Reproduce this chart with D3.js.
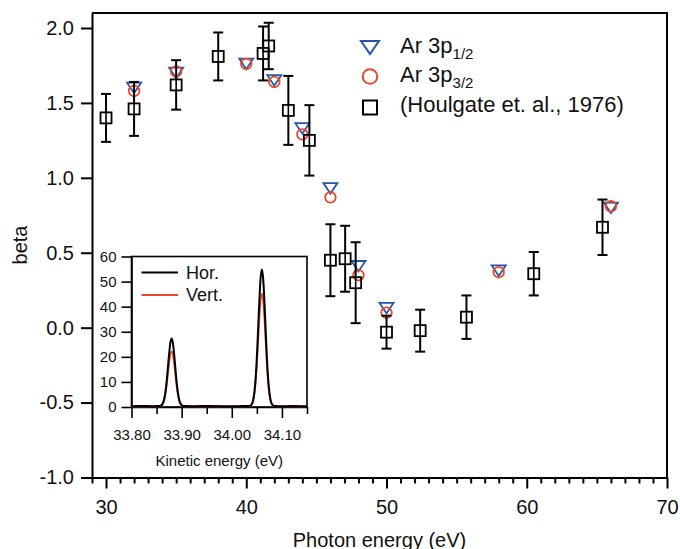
<!DOCTYPE html>
<html>
<head>
<meta charset="utf-8">
<script src="https://cdn.jsdelivr.net/npm/d3@7"></script>
<style>
  html, body { margin: 0; padding: 0; background: #fff; }
  svg { display: block; font-family: "Liberation Sans", Arial, Helvetica, sans-serif; }
</style>
</head>
<body>
<svg id="chart" width="680" height="549"></svg>
<script>
// ---------- data ----------
const photonEnergy = [32, 35, 40, 42, 44, 46, 48, 50, 58, 66];
const beta3p12 = [1.60, 1.70, 1.76, 1.65, 1.33, 0.93, 0.41, 0.13, 0.38, 0.80];
const beta3p32 = [1.58, 1.71, 1.76, 1.64, 1.29, 0.87, 0.35, 0.10, 0.37, 0.81];

const houlgateEnergy = [30, 32, 35, 38, 41.2, 41.6, 43, 44.5, 46, 47.05, 47.8, 50, 52.4, 55.7, 60.5, 65.4];
const houlgateBeta   = [1.40, 1.46, 1.62, 1.81, 1.83, 1.88, 1.45, 1.25, 0.45, 0.46, 0.30, -0.03, -0.02, 0.07, 0.36, 0.67];
const houlgateErr    = [0.16, 0.18, 0.165, 0.16, 0.18, 0.155, 0.23, 0.235, 0.24, 0.22, 0.27, 0.11, 0.14, 0.145, 0.145, 0.185];

const xTicks = [30, 40, 50, 60, 70];
const yTicks = [-1.0, -0.5, 0.0, 0.5, 1.0, 1.5, 2.0];

const legendLabels = [["Ar 3p", "1/2"], ["Ar 3p", "3/2"], ["(Houlgate et. al., 1976)", ""]];

// inset spectrum (kinetic energy, eV)
const kineticEnergy = [33.80, 33.82, 33.84, 33.85,
  33.855, 33.86, 33.8625, 33.865, 33.8675, 33.87, 33.8725, 33.875, 33.8775, 33.88,
  33.8825, 33.885, 33.8875, 33.89, 33.8925, 33.895, 33.8975, 33.90, 33.905,
  33.92, 33.95, 33.98, 34.00, 34.02,
  34.035, 34.04, 34.0425, 34.045, 34.0475, 34.05, 34.0525, 34.055, 34.0575, 34.06,
  34.0625, 34.065, 34.0675, 34.07, 34.0725, 34.075, 34.0775, 34.08, 34.085,
  34.10, 34.12, 34.15];
const intensityHor = [0.3, 0.4, 0.3, 0.35,
  0.35, 0.8, 1.5, 3.0, 5.8, 10.0, 15.5, 21.2, 25.6, 27.3,
  25.6, 21.2, 15.5, 10.0, 5.8, 3.0, 1.5, 0.8, 0.35,
  0.3, 0.35, 0.3, 0.3, 0.35,
  0.4, 1.2, 2.7, 5.8, 11.4, 19.9, 31.0, 42.5, 51.4, 54.8,
  51.4, 42.5, 31.0, 19.9, 11.4, 5.8, 2.7, 1.2, 0.4,
  0.3, 0.35, 0.3];
const intensityVert = [0.2, 0.25, 0.2, 0.25,
  0.25, 0.6, 1.2, 2.4, 4.7, 8.1, 12.6, 17.2, 20.8, 22.2,
  20.8, 17.2, 12.6, 8.1, 4.7, 2.4, 1.2, 0.6, 0.25,
  0.2, 0.25, 0.2, 0.2, 0.25,
  0.3, 1.0, 2.2, 4.7, 9.3, 16.4, 25.5, 35.1, 42.4, 45.2,
  42.4, 35.1, 25.5, 16.4, 9.3, 4.7, 2.2, 1.0, 0.3,
  0.2, 0.25, 0.2];
const insetXTicks = [33.80, 33.90, 34.00, 34.10];
const insetXMinor = [33.85, 33.95, 34.05, 34.15];
const insetYTicks = [0, 10, 20, 30, 40, 50, 60];
const insetLegend = ["Hor.", "Vert."];

// ---------- styles ----------
const BLUE = "#2356a8";
const RED = "#e8472b";
const FONT = 20;

const svg = d3.select("#chart");

// ---------- main plot ----------
const L = 92, R = 667, T = 13, B = 477.5;
const x = d3.scaleLinear().domain([29, 70]).range([L, R]);
const y = d3.scaleLinear().domain([-1.0, 2.1]).range([B, T]);

// frame
svg.append("path")
  .attr("d", `M${L},${T}H${R}V${B}`)
  .attr("fill", "none").attr("stroke", "#000").attr("stroke-width", 2);

// x axis minor ticks
const minor = d3.range(29, 71).filter(v => v % 10 !== 0);
svg.append("g").attr("transform", `translate(0,${B})`)
  .call(d3.axisBottom(x).tickValues(minor).tickSize(6).tickFormat(""))
  .call(g => g.select(".domain").remove())
  .call(g => g.selectAll("line").attr("stroke-width", 2));
// x axis major
svg.append("g").attr("transform", `translate(0,${B})`)
  .call(d3.axisBottom(x).tickValues(xTicks).tickSize(11).tickSizeOuter(0).tickPadding(11).tickFormat(d => String(d)))
  .call(g => g.select(".domain").attr("stroke-width", 2))
  .call(g => g.selectAll("line").attr("stroke-width", 2))
  .call(g => g.selectAll("text").attr("font-size", FONT).attr("font-family", "Liberation Sans, Arial, sans-serif").attr("fill", "#111"));

// y axis
svg.append("g").attr("transform", `translate(${L},0)`)
  .call(d3.axisLeft(y).tickValues(yTicks).tickSize(11).tickSizeOuter(0).tickPadding(7).tickFormat(d => d.toFixed(1)))
  .call(g => g.select(".domain").attr("stroke-width", 2))
  .call(g => g.selectAll("line").attr("stroke-width", 2))
  .call(g => g.selectAll("text").attr("font-size", FONT).attr("font-family", "Liberation Sans, Arial, sans-serif").attr("fill", "#111"));

// axis titles
svg.append("text")
  .attr("transform", "translate(27,245) rotate(-90)")
  .attr("text-anchor", "middle").attr("font-size", FONT).attr("fill", "#111")
  .text("beta");
svg.append("text")
  .attr("x", (L + R) / 2).attr("y", 546.5)
  .attr("text-anchor", "middle").attr("font-size", FONT).attr("fill", "#111")
  .text("Photon energy (eV)");

// ---------- inset ----------
const iL = 131.5, iR = 307, iT = 256.5, iB = 407;
const ix = d3.scaleLinear().domain([33.80, 34.15]).range([iL, iR]);
const iy = d3.scaleLinear().domain([0, 60]).range([iB, iT]);

svg.append("rect").attr("x", iL).attr("y", iT).attr("width", iR - iL).attr("height", iB - iT)
  .attr("fill", "#fff").attr("stroke", "#000").attr("stroke-width", 1.6);

svg.append("g").attr("transform", `translate(0,${iB})`)
  .call(d3.axisBottom(ix).tickValues(insetXMinor).tickSize(7).tickFormat(""))
  .call(g => g.select(".domain").remove())
  .call(g => g.selectAll("line").attr("stroke-width", 1.6));
svg.append("g").attr("transform", `translate(0,${iB})`)
  .call(d3.axisBottom(ix).tickValues(insetXTicks).tickSize(11).tickSizeOuter(0).tickPadding(11).tickFormat(d => d.toFixed(2)))
  .call(g => g.select(".domain").attr("stroke-width", 1.6))
  .call(g => g.selectAll("line").attr("stroke-width", 1.6))
  .call(g => g.selectAll("text").attr("font-size", 15).attr("font-family", "Liberation Sans, Arial, sans-serif").attr("fill", "#111"));
svg.append("g").attr("transform", `translate(${iL},0)`)
  .call(d3.axisLeft(iy).tickValues(insetYTicks).tickSize(10).tickSizeOuter(0).tickPadding(5).tickFormat(d => String(d)))
  .call(g => g.select(".domain").attr("stroke-width", 1.6))
  .call(g => g.selectAll("line").attr("stroke-width", 1.6))
  .call(g => g.selectAll("text").attr("font-size", 15).attr("font-family", "Liberation Sans, Arial, sans-serif").attr("fill", "#111"));

svg.append("text")
  .attr("x", (iL + iR) / 2).attr("y", 465.5)
  .attr("text-anchor", "middle").attr("font-size", 15).attr("fill", "#111")
  .text("Kinetic energy (eV)");

const spec = kineticEnergy.map((k, i) => ({ k, h: intensityHor[i], v: intensityVert[i] }));
const lineV = d3.line().x(d => ix(d.k)).y(d => iy(d.v)).curve(d3.curveMonotoneX);
const lineH = d3.line().x(d => ix(d.k)).y(d => iy(d.h)).curve(d3.curveMonotoneX);
svg.append("path").datum(spec).attr("d", lineV).attr("fill", "none").attr("stroke", RED).attr("stroke-width", 1.6);
svg.append("path").datum(spec).attr("d", lineH).attr("fill", "none").attr("stroke", "#000").attr("stroke-width", 2);

// inset legend
const ilg = svg.append("g");
[[ "#000", 272.5, 278.5, 2.2 ], [ RED, 295, 301, 1.8 ]].forEach((s, i) => {
  ilg.append("line").attr("x1", 141.5).attr("x2", 178).attr("y1", s[1]).attr("y2", s[1])
    .attr("stroke", s[0]).attr("stroke-width", s[3]);
  ilg.append("text").attr("x", 186).attr("y", s[2]).attr("font-size", 18).attr("fill", "#111").text(insetLegend[i]);
});

// ---------- markers ----------
const triPath = (w, h) => `M${-w/2},${-h/2}L${w/2},${-h/2}L0,${h/2}Z`;

// triangles (Ar 3p1/2)
svg.append("g").selectAll("path").data(photonEnergy).join("path")
  .attr("transform", (d, i) => `translate(${x(d)},${y(beta3p12[i])})`)
  .attr("d", triPath(14, 10.5))
  .attr("fill", "none").attr("stroke", BLUE).attr("stroke-width", 1.8);

// circles (Ar 3p3/2)
svg.append("g").selectAll("circle").data(photonEnergy).join("circle")
  .attr("cx", d => x(d)).attr("cy", (d, i) => y(beta3p32[i])).attr("r", 5.3)
  .attr("fill", "none").attr("stroke", RED).attr("stroke-width", 1.8);

// Houlgate error bars + squares
const hg = svg.append("g");
houlgateEnergy.forEach((e, i) => {
  const cx = x(e), yTop = y(houlgateBeta[i] + houlgateErr[i]), yBot = y(houlgateBeta[i] - houlgateErr[i]);
  const cy = y(houlgateBeta[i]);
  hg.append("line").attr("x1", cx).attr("x2", cx).attr("y1", yTop).attr("y2", cy - 5.5)
    .attr("stroke", "#000").attr("stroke-width", 2);
  hg.append("line").attr("x1", cx).attr("x2", cx).attr("y1", cy + 5.5).attr("y2", yBot)
    .attr("stroke", "#000").attr("stroke-width", 2);
  hg.append("line").attr("x1", cx - 5).attr("x2", cx + 5).attr("y1", yTop).attr("y2", yTop)
    .attr("stroke", "#000").attr("stroke-width", 2);
  hg.append("line").attr("x1", cx - 5).attr("x2", cx + 5).attr("y1", yBot).attr("y2", yBot)
    .attr("stroke", "#000").attr("stroke-width", 2);
  hg.append("rect").attr("x", cx - 5.5).attr("y", cy - 5.5).attr("width", 11).attr("height", 11)
    .attr("fill", "none").attr("stroke", "#000").attr("stroke-width", 1.8);
  hg.append("line").attr("x1", cx).attr("x2", cx).attr("y1", cy - 5.5).attr("y2", cy + 5.5)
    .attr("stroke", "#000").attr("stroke-width", 1.6);
});

// ---------- legend ----------
const lg = svg.append("g");
const rowsY = [47.5, 76.5, 107.5];
const baseY = [52.7, 81.7, 111.7];
lg.append("path").attr("transform", `translate(370,${rowsY[0]})`).attr("d", triPath(18, 13))
  .attr("fill", "none").attr("stroke", BLUE).attr("stroke-width", 2);
lg.append("circle").attr("cx", 370).attr("cy", rowsY[1]).attr("r", 7.3)
  .attr("fill", "none").attr("stroke", RED).attr("stroke-width", 2);
lg.append("rect").attr("x", 363).attr("y", rowsY[2] - 7).attr("width", 14).attr("height", 14)
  .attr("fill", "none").attr("stroke", "#000").attr("stroke-width", 2);
legendLabels.forEach((lab, i) => {
  const t = lg.append("text").attr("x", 400).attr("y", baseY[i]).attr("font-size", 22).attr("fill", "#111");
  t.append("tspan").text(lab[0]);
  if (lab[1]) t.append("tspan").attr("font-size", 15).attr("dy", 6).text(lab[1]);
});
</script>
</body>
</html>
